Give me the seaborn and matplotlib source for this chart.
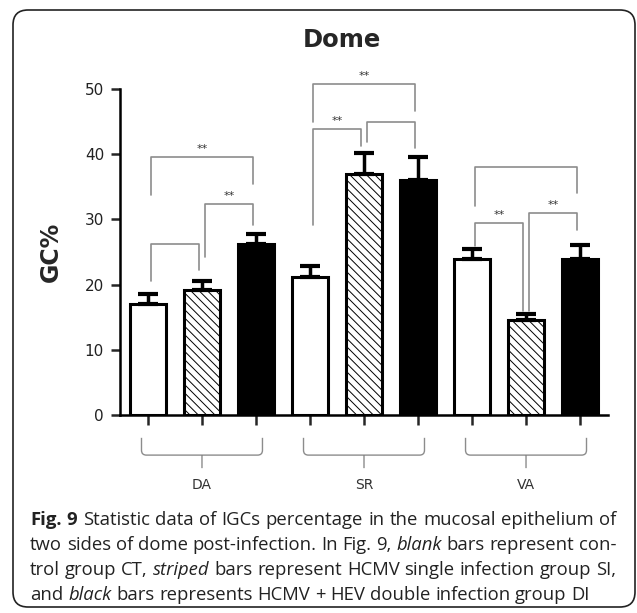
import numpy as np
import pandas as pd
import seaborn as sns
import matplotlib
matplotlib.use('Agg')
import matplotlib.pyplot as plt
import matplotlib.transforms as mtrans
from matplotlib.path import Path
from matplotlib.patches import PathPatch, FancyBboxPatch

# values
regions = ['DA', 'SR', 'VA']
groups = ['CT', 'SI', 'DI']
ct_mean = [17.0, 21.2, 23.9]
si_mean = [19.2, 36.9, 14.5]
di_mean = [26.2, 36.1, 24.0]
ct_err = [1.6, 1.6, 1.6]
si_err = [1.4, 3.3, 1.0]
di_err = [1.6, 3.5, 2.0]

# significance brackets: bar a, bar b, top, left leg end, right leg end, label
# bars numbered DA-CT, DA-SI, DA-DI, SR-CT, ...
brackets = [
    (0, 1, 26.3, 20.6, 22.2, ''),
    (1, 2, 32.4, 24.2, 29.1, '**'),
    (0, 2, 39.6, 33.7, 35.5, '**'),
    (3, 4, 43.9, 29.1, 41.2, '**'),
    (4, 5, 44.9, 41.8, 40.9, ''),
    (3, 5, 50.8, 44.9, 46.7, '**'),
    (6, 8, 38.0, 32.1, 34.0, ''),
    (6, 7, 29.5, 25.9, 16.0, '**'),
    (7, 8, 31.0, 16.0, 28.3, '**'),
]

caption = [
    "[b]Fig. [b]9 Statistic data of IGCs percentage in the mucosal epithelium of",
    "two sides of dome post-infection. In Fig. 9, [i]blank bars represent con-",
    "trol group CT, [i]striped bars represent HCMV single infection group SI,",
    "and [i]black bars represents HCMV + HEV double infection group DI",
]

means = {'CT': ct_mean, 'SI': si_mean, 'DI': di_mean}
errs = {'CT': ct_err, 'SI': si_err, 'DI': di_err}
rows = []
for k, r in enumerate(regions):
    for g in groups:
        rows.append({'region': r, 'group': g, 'value': means[g][k], 'err': errs[g][k]})
df = pd.DataFrame(rows)

sns.set_style('ticks')
plt.rcParams['font.family'] = ['DejaVu Sans']
plt.rcParams['hatch.linewidth'] = 0.7

W, H = 637, 613
fig = plt.figure(figsize=(W / 100, H / 100), dpi=100)
ax = fig.add_axes([120 / W, (H - 415) / H, 488 / W, 326 / H])

sns.barplot(data=df, x='region', y='value', hue='group', order=regions,
            hue_order=groups, palette={'CT': 'white', 'SI': 'white', 'DI': 'black'},
            edgecolor='black', linewidth=2.2, width=1.0, gap=0.32,
            errorbar=None, legend=False, ax=ax, zorder=2)

n = len(regions) * len(groups)
centers = np.zeros(n)
for h, cont in enumerate(ax.containers):
    for k, bar in enumerate(cont):
        centers[k * 3 + h] = bar.get_x() + bar.get_width() / 2
        if groups[h] == 'SI':
            bar.set_hatch('\\\\\\\\')

ax.errorbar(centers, df['value'], yerr=[np.zeros(n), df['err']], fmt='none',
            ecolor='black', elinewidth=2.5, capsize=7.5, capthick=3, zorder=3)

ax.set_xlim(-0.506, 2.506)
ax.set_ylim(0, 50)
ax.set_yticks(range(0, 51, 10))
ax.set_xticks(centers)
ax.set_xticklabels([])
ax.tick_params(axis='x', length=7.5, width=1.8, direction='out')
ax.tick_params(axis='y', length=6.5, width=1.8, direction='out', labelsize=11,
               pad=5, labelcolor='#222222')
for s in ['top', 'right']:
    ax.spines[s].set_visible(False)
for s in ['left', 'bottom']:
    ax.spines[s].set_linewidth(1.8)
    ax.spines[s].set_color('black')
ax.set_xlabel('')
ax.set_ylabel('GC%', fontsize=17, fontweight='bold')
ax.yaxis.set_label_coords(-0.117, 0.5)

# brackets
for a, b, top, lb, rb, lab in brackets:
    xl = centers[a] + 0.02
    xr = centers[b] - 0.02
    ax.plot([xl, xl, xr, xr], [lb, top, top, rb], color='#8c8c8c', lw=1.2,
            clip_on=False, zorder=4)
    if lab:
        ax.text((xl + xr) / 2, top + 1.2, lab, ha='center', va='center',
                fontsize=8, color='#333333')

# group braces under the axis
blend = mtrans.blended_transform_factory(ax.transData, ax.transAxes)
y_top, y_h, y_tip = -0.07, -0.123, -0.163
dx, dy = 0.03, 0.015
for k, r in enumerate(regions):
    xl = centers[k * 3] - 0.04
    xr = centers[k * 3 + 2] + 0.04
    xc = centers[k * 3 + 1]
    verts = [(xl, y_top), (xl, y_h + dy), (xl, y_h), (xl + dx, y_h),
             (xr - dx, y_h), (xr, y_h), (xr, y_h + dy), (xr, y_top),
             (xc, y_h), (xc, y_tip)]
    codes = [Path.MOVETO, Path.LINETO, Path.CURVE3, Path.CURVE3,
             Path.LINETO, Path.CURVE3, Path.CURVE3, Path.LINETO,
             Path.MOVETO, Path.LINETO]
    ax.add_patch(PathPatch(Path(verts, codes), fill=False, edgecolor='#8c8c8c',
                           lw=1.0, transform=blend, clip_on=False))
    ax.text(xc, -0.215, r, transform=blend, ha='center', va='center',
            fontsize=10, color='#333333')

fig.text(342 / W, 1 - 40 / H, 'Dome', ha='center', va='center', fontsize=17.5,
         fontweight='bold')

# border
fig.add_artist(FancyBboxPatch((13, 6), 622, 597,
                              boxstyle='round,pad=0,rounding_size=15',
                              transform=mtrans.IdentityTransform(),
                              facecolor='none', edgecolor='#222222', lw=1.2))

# caption, justified
renderer = fig.canvas.get_renderer()
cap_fs = 13.3
x_left, x_right = 30, 616
baselines = [525, 550, 575, 600]
space = 0.26 * cap_fs * 100 / 72
for li, line in enumerate(caption):
    words = []
    for w in line.split(' '):
        weight, style = 'normal', 'normal'
        if w.startswith('[b]'):
            weight, w = 'bold', w[3:]
        elif w.startswith('[i]'):
            style, w = 'italic', w[3:]
        t = fig.text(0, 1 - baselines[li] / H, w, fontsize=cap_fs, family='Open Sans',
                     fontweight=weight, fontstyle=style, va='baseline', ha='left',
                     color='#222222')
        words.append((t, t.get_window_extent(renderer).width))
    total = sum(wd for _, wd in words)
    if li < len(caption) - 1:
        gap = (x_right - x_left - total) / (len(words) - 1)
    else:
        gap = space
    x = x_left
    for t, wd in words:
        t.set_x(x / W)
        x += wd + gap

fig.savefig('out.png', dpi=100)
